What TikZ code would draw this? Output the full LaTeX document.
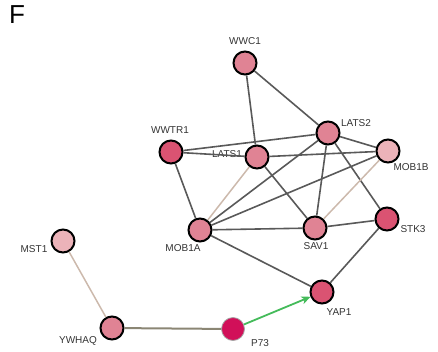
\documentclass[tikz,border=0pt]{standalone}
\usepackage{fontspec}
\setmainfont{Liberation Sans}
\usetikzlibrary{arrows.meta}
\newlength{\du}
\setlength{\du}{1pt}
\definecolor{midpink}{rgb}{0.878, 0.514, 0.580}
\definecolor{darkpink}{rgb}{0.855, 0.325, 0.447}
\definecolor{lightpink}{rgb}{0.925, 0.702, 0.725}
\definecolor{crimson}{rgb}{0.820, 0.063, 0.349}
\definecolor{linkgray}{rgb}{0.350, 0.350, 0.350}
\definecolor{weaktan}{rgb}{0.800, 0.725, 0.675}
\definecolor{olivegray}{rgb}{0.545, 0.525, 0.455}
\definecolor{arrowgreen}{rgb}{0.267, 0.733, 0.353}
\tikzset{
  gene/.style={circle, draw=black, line width=2\du, minimum size=23\du, inner sep=0pt},
  lbl/.style={font=\fontsize{10}{11}\selectfont, text=black!80, inner sep=0pt},
  link/.style={draw=linkgray, line width=1.6\du},
  weak/.style={draw=weaktan, line width=1.5\du},
}

\begin{document}
\begin{tikzpicture}
\pgftransformxscale{1.000000}
\pgftransformyscale{-1.000000}
\useasboundingbox (0\du,0\du) rectangle (438\du,351\du);
% panel letter
\node[font=\fontsize{26}{28}\selectfont, inner sep=0pt] (panel) at (17\du,15\du){F};
% genes
\node[gene, fill=midpink] (wwc1) at (245\du,63\du){};
\node[gene, fill=midpink] (lats2) at (328\du,133\du){};
\node[gene, fill=darkpink] (wwtr1) at (171\du,152\du){};
\node[gene, fill=midpink] (lats1) at (257\du,157\du){};
\node[gene, fill=lightpink] (mob1b) at (388\du,151\du){};
\node[gene, fill=midpink] (mob1a) at (200\du,230\du){};
\node[gene, fill=midpink] (sav1) at (315\du,228\du){};
\node[gene, fill=darkpink] (stk3) at (387\du,219\du){};
\node[gene, fill=lightpink] (mst1) at (63\du,241\du){};
\node[gene, fill=midpink] (ywhaq) at (112\du,328\du){};
\node[gene, fill=crimson, draw=gray!70, line width=0.8\du] (p73) at (233\du,329\du){};
\node[gene, fill=darkpink] (yap1) at (322\du,292\du){};
% labels
\node[lbl] (wwc1-l) at (245\du,41\du){WWC1};
\node[lbl] (lats2-l) at (356\du,123\du){LATS2};
\node[lbl] (wwtr1-l) at (170\du,130\du){WWTR1};
\node[lbl] (lats1-l) at (227\du,154\du){LATS1};
\node[lbl] (mob1b-l) at (411\du,167\du){MOB1B};
\node[lbl] (mob1a-l) at (183\du,248\du){MOB1A};
\node[lbl] (sav1-l) at (316\du,246\du){SAV1};
\node[lbl] (stk3-l) at (413\du,229\du){STK3};
\node[lbl] (mst1-l) at (34\du,249\du){MST1};
\node[lbl] (ywhaq-l) at (78\du,341\du){YWHAQ};
\node[lbl] (p73-l) at (260\du,343\du){P73};
\node[lbl] (yap1-l) at (339\du,312\du){YAP1};
% interactions
\draw[link] (wwc1) -- (lats1);
\draw[link] (wwc1) -- (lats2);
\draw[link] (wwtr1) -- (lats2);
\draw[link] (wwtr1) -- (lats1);
\draw[link] (wwtr1) -- (mob1a);
\draw[link] (lats2) -- (mob1b);
\draw[link] (lats2) -- (mob1a);
\draw[link] (lats2) -- (sav1);
\draw[link] (lats2) -- (stk3);
\draw[link] (lats1) -- (mob1b);
\draw[link] (lats1) -- (sav1);
\draw[weak] (lats1) -- (mob1a);
\draw[link] (mob1b) -- (mob1a);
\draw[weak] (mob1b) -- (sav1);
\draw[link] (mob1a) -- (sav1);
\draw[link] (sav1) -- (stk3);
\draw[link] (mob1a) -- (yap1);
\draw[link] (stk3) -- (yap1);
\draw[weak] (mst1) -- (ywhaq);
\draw[draw=olivegray, line width=2\du] (ywhaq) -- (p73);
\draw[draw=arrowgreen, line width=1.8\du, -{Stealth[length=9pt, width=8pt, inset=2.5pt]}] (p73) -- (yap1);
\end{tikzpicture}
\end{document}
